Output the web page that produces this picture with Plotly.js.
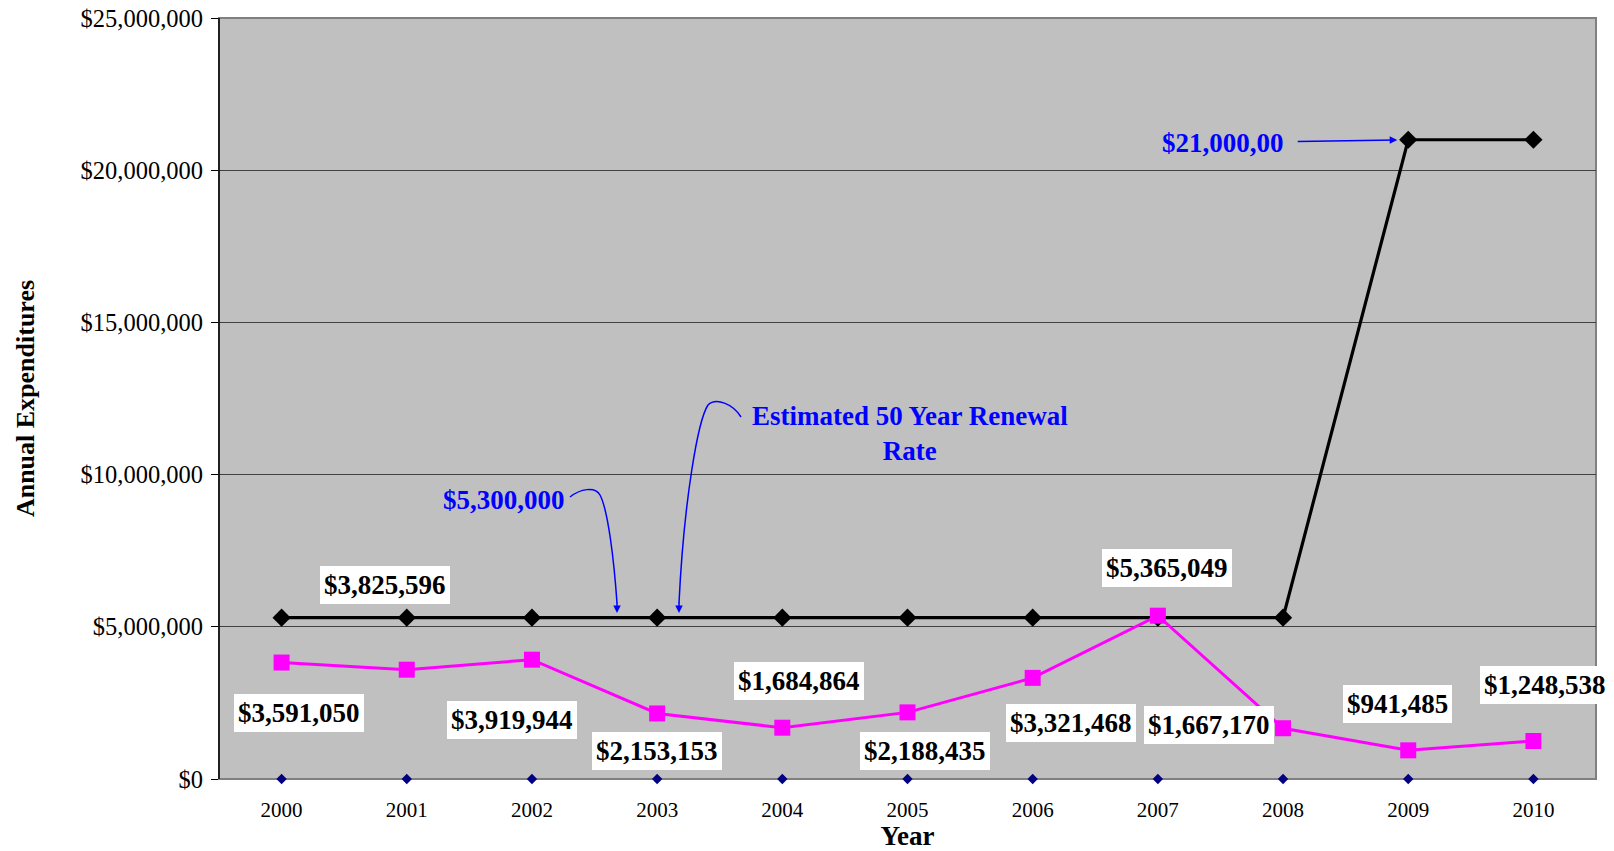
<!DOCTYPE html>
<html>
<head>
<meta charset="utf-8">
<script src="https://cdn.plot.ly/plotly-3.0.1.min.js"></script>
<style>
  html, body { margin: 0; padding: 0; background: #ffffff; }
  #chart { width: 1614px; height: 851px; }
</style>
</head>
<body>
<div id="chart"></div>
<script>
// ---- data ----
const years = ['2000', '2001', '2002', '2003', '2004', '2005', '2006', '2007', '2008', '2009', '2010'];
const expenditures = [3825596, 3591050, 3919944, 2153153, 1684864, 2188435, 3321468, 5365049, 1667170, 941485, 1248538];
const renewalRate = [5300000, 5300000, 5300000, 5300000, 5300000, 5300000, 5300000, 5300000, 5300000, 21000000, 21000000];
const baseline = [0, 0, 0, 0, 0, 0, 0, 0, 0, 0, 0];
const renewalNote = 'Estimated 50 Year Renewal<br>Rate';
const peakNote = '$21,000,00';

// ---- layout constants ----
const W = 1614, H = 851;
const M = { l: 219, r: 18, t: 18, b: 72 };
const PW = W - M.l - M.r, PH = H - M.t - M.b;
const FONT = '"Liberation Serif", "Times New Roman", Times, serif';
const px = X => (X - M.l) / PW;
const py = Y => (H - M.b - Y) / PH;

// pixel offsets of the value labels from their points
const labelOffsets = [[103, -78], [-108, 43], [-20, 60], [0, 38], [17, -47], [17, 39], [38, 45], [9, -48], [-74, -3], [-11, -46], [12, -56]];

const idx = years.map((_, i) => i);
const money = v => '$' + v.toLocaleString('en-US');

const traces = [
  {
    x: idx, y: baseline, type: 'scatter', mode: 'markers',
    marker: { symbol: 'diamond', size: 8, color: '#000080' },
    cliponaxis: false, hoverinfo: 'skip', showlegend: false
  },
  {
    x: idx, y: renewalRate, type: 'scatter', mode: 'lines+markers',
    line: { color: '#000000', width: 3.2 },
    marker: { symbol: 'diamond', size: 14, color: '#000000' },
    cliponaxis: false, showlegend: false
  },
  {
    x: idx, y: expenditures, type: 'scatter', mode: 'lines+markers',
    line: { color: '#FF00FF', width: 3 },
    marker: { symbol: 'square', size: 16, color: '#FF00FF' },
    cliponaxis: false, showlegend: false
  }
];

const annotations = expenditures.map((v, i) => ({
  x: i, y: v, xref: 'x', yref: 'y',
  text: '<b>' + money(v) + '</b>',
  showarrow: true, arrowcolor: 'rgba(0,0,0,0)', arrowwidth: 0.1,
  ax: labelOffsets[i][0], ay: labelOffsets[i][1],
  bgcolor: '#ffffff', borderpad: 4, borderwidth: 0,
  font: { family: FONT, size: 27, color: '#000000' }
}));

// blue notes
annotations.push({
  x: 9, y: renewalRate[9], xref: 'x', yref: 'y',
  text: '<b>' + peakNote + '</b>',
  showarrow: true, arrowcolor: '#0000FF', arrowwidth: 1.5, arrowhead: 2, arrowsize: 1,
  standoff: 11, startstandoff: 12, ax: -185, ay: 3,
  font: { family: FONT, size: 27, color: '#0000FF' }
});
annotations.push({
  x: px(504), y: py(500), xref: 'paper', yref: 'paper', xanchor: 'center', yanchor: 'middle',
  text: '<b>' + money(renewalRate[0]) + '</b>', showarrow: false,
  font: { family: FONT, size: 27, color: '#0000FF' }
});
annotations.push({
  x: px(910), y: py(433), xref: 'paper', yref: 'paper', xanchor: 'center', yanchor: 'middle',
  text: '<b>' + renewalNote.replace('<br>', '</b><br><b>') + '</b>', showarrow: false,
  align: 'center',
  font: { family: FONT, size: 27, color: '#0000FF' }
});
// arrowheads of curved arrows
[[617, 613], [679, 613]].forEach(p => {
  annotations.push({
    x: px(p[0]), y: py(p[1]), xref: 'paper', yref: 'paper', text: '',
    showarrow: true, arrowcolor: '#0000FF', arrowwidth: 1.5, arrowhead: 2, arrowsize: 1,
    ax: 0, ay: -12
  });
});

const P = (X, Y) => px(X).toFixed(5) + ',' + py(Y).toFixed(5);

const shapes = [
  {
    type: 'path', xref: 'paper', yref: 'paper',
    path: 'M ' + P(570, 497) + ' C ' + P(580, 489) + ' ' + P(595, 486) + ' ' + P(600, 495) +
          ' C ' + P(608, 510) + ' ' + P(614, 560) + ' ' + P(617, 603),
    line: { color: '#0000FF', width: 1.5 }
  },
  {
    type: 'path', xref: 'paper', yref: 'paper',
    path: 'M ' + P(741, 417) + ' C ' + P(733, 404) + ' ' + P(716, 397) + ' ' + P(708, 405) +
          ' C ' + P(698, 420) + ' ' + P(684, 500) + ' ' + P(679, 603),
    line: { color: '#0000FF', width: 1.5 }
  },
  {
    type: 'rect', xref: 'paper', yref: 'paper', x0: 0, x1: 1, y0: 0, y1: 1,
    line: { color: '#808080', width: 2 }, layer: 'below'
  },
  {
    type: 'line', xref: 'paper', yref: 'paper', x0: 0, x1: 0, y0: 0, y1: 1,
    line: { color: '#000000', width: 1.5 }
  }
];

const layout = {
  width: W, height: H,
  margin: M,
  paper_bgcolor: '#ffffff',
  plot_bgcolor: '#C0C0C0',
  showlegend: false,
  font: { family: FONT, color: '#000000' },
  xaxis: {
    range: [-0.5, 10.5],
    tickvals: idx, ticktext: years,
    showgrid: false, zeroline: false, showline: false,
    ticks: '', ticklabelstandoff: 16,
    tickfont: { family: FONT, size: 21, color: '#000000' },
    title: { text: '<b>Year</b>', font: { family: FONT, size: 27, color: '#000000' }, standoff: 2 },
    fixedrange: true
  },
  yaxis: {
    range: [0, 25000000], dtick: 5000000,
    tickprefix: '$', tickformat: ',d',
    showgrid: true, gridcolor: '#404040', gridwidth: 1,
    zeroline: false, showline: false,
    ticks: 'outside', ticklen: 7, tickcolor: '#000000', tickwidth: 1,
    ticklabelstandoff: 3,
    tickfont: { family: FONT, size: 24.5, color: '#000000' },
    title: { text: '<b>Annual Expenditures</b>', font: { family: FONT, size: 26, color: '#000000' }, standoff: 38 },
    fixedrange: true
  },
  annotations: annotations,
  shapes: shapes
};

Plotly.newPlot('chart', traces, layout, { displayModeBar: false, staticPlot: true });
</script>
</body>
</html>
